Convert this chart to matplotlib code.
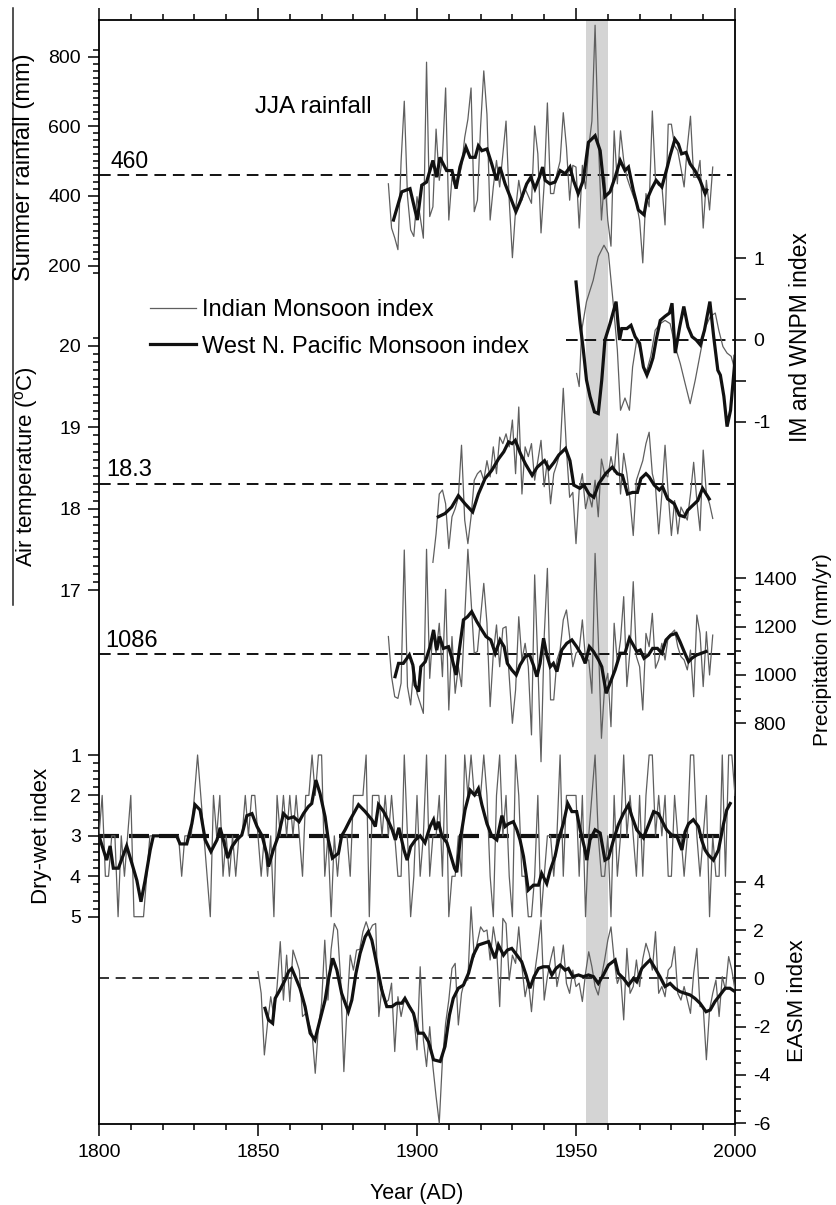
import numpy as np
import matplotlib
matplotlib.use("Agg")
import matplotlib.pyplot as plt
from matplotlib.lines import Line2D

plt.rcParams['font.family'] = ['Liberation Sans', 'DejaVu Sans']
plt.rcParams['mathtext.fontset'] = 'custom'
plt.rcParams['mathtext.rm'] = 'Liberation Sans'
plt.rcParams['axes.unicode_minus'] = False

# ---------------- data ----------------
rain_years = list(range(1891, 1994))
rain_thin = [435, 308, 280, 246, 500, 672, 400, 303, 284, 398,
             340, 279, 784, 341, 369, 592, 445, 511, 710, 331,
             454, 426, 450, 483, 568, 620, 710, 355, 388, 600,
             759, 634, 331, 426, 502, 426, 520, 615, 388, 223,
             360, 445, 388, 421, 400, 379, 601, 521, 294, 435,
             667, 407, 407, 464, 500, 639, 540, 388, 488, 483,
             308, 488, 421, 540, 615, 890, 568, 331, 454, 330,
             256, 587, 435, 587, 502, 454, 426, 400, 379, 330,
             208, 407, 369, 644, 445, 430, 431, 317, 606, 606,
             544, 530, 480, 426, 540, 629, 454, 454, 502, 308,
             445, 360, 483]
rain_smooth_years = [1892.6, 1895.2, 1897.8, 1900.1, 1901.5, 1903.0, 1905.0, 1906.2, 1907.2, 1909.3,
                     1911.0, 1912.3, 1913.5, 1915.4, 1916.7, 1918.3, 1919.3, 1920.4, 1922.0, 1923.5,
                     1925.0, 1926.1, 1927.7, 1929.5, 1931.1, 1932.4, 1934.5, 1935.8, 1937.1, 1938.5,
                     1939.5, 1940.3, 1941.8, 1943.4, 1945.0, 1946.6, 1948.1, 1949.2, 1950.7, 1952.3,
                     1953.9, 1956.0, 1957.6, 1959.1, 1960.7, 1962.3, 1963.9, 1965.4, 1966.5, 1968.0,
                     1969.6, 1971.4, 1972.2, 1973.8, 1975.2, 1977.0, 1978.7, 1979.6, 1981.1, 1982.2,
                     1983.2, 1984.6, 1985.9, 1987.4, 1989.0, 1990.6, 1991.1]
rain_smooth = [331, 412, 421, 331, 431, 440, 502, 454, 511, 473,
               473, 421, 483, 540, 511, 511, 544, 530, 535, 492,
               445, 483, 435, 393, 355, 383, 435, 454, 421, 454,
               483, 445, 435, 440, 473, 464, 483, 445, 407, 445,
               554, 573, 530, 398, 412, 454, 502, 473, 483, 417,
               360, 346, 388, 421, 445, 426, 483, 516, 563, 549,
               521, 525, 492, 473, 445, 407, 417]

im_years = [1950.2, 1951.0, 1951.8, 1953.3, 1955.4, 1957.0, 1958.8, 1960.2, 1961.7, 1963.0,
            1964.0, 1965.4, 1966.8, 1967.8, 1969.1, 1970.2, 1971.2, 1972.3, 1973.5, 1974.9,
            1976.5, 1978.0, 1979.6, 1981.2, 1982.8, 1984.3, 1985.9, 1987.5, 1989.1, 1990.7,
            1992.3, 1993.8, 1994.9, 1996.2, 1997.5, 1998.8, 2000.0]
im_index = [-0.41, -0.57, 0.12, 0.47, 0.73, 1.02, 1.16, 1.06, 0.45, -0.12,
            -0.86, -0.71, -0.86, -0.33, 0.0, -0.12, -0.35, -0.37, -0.20, 0.12,
            0.20, 0.24, 0.20, -0.08, -0.29, -0.53, -0.78, -0.49, -0.16, 0.16,
            0.29, 0.33, 0.12, -0.08, -0.16, -0.20, -0.37]
wnpm_years = [1950.0, 1951.3, 1952.3, 1953.3, 1954.4, 1955.8, 1957.0, 1958.1, 1959.1, 1960.7,
              1962.6, 1963.7, 1964.4, 1966.0, 1967.3, 1968.6, 1970.0, 1971.2, 1972.3, 1973.3,
              1974.2, 1975.2, 1976.5, 1978.0, 1979.4, 1980.2, 1981.2, 1982.6, 1983.9, 1985.2,
              1986.5, 1987.8, 1989.1, 1990.4, 1992.1, 1993.3, 1994.6, 1995.4, 1996.5, 1997.5,
              1998.6, 1999.8, 2000.0]
wnpm_index = [0.71, 0.20, -0.12, -0.49, -0.69, -0.88, -0.90, -0.49, 0.0, 0.20,
              0.47, 0.0, 0.14, 0.14, 0.18, 0.04, -0.04, -0.33, -0.43, -0.33,
              -0.22, 0.0, 0.24, 0.29, 0.33, 0.45, -0.16, 0.16, 0.41, 0.16,
              0.04, 0.0, -0.06, 0.12, 0.47, 0.04, -0.37, -0.43, -0.69, -1.06,
              -0.86, -0.33, -0.20]

temp_years = list(range(1905, 1994))
temp_thin = [17.34, 17.69, 18.18, 18.23, 18.06, 17.51, 17.90, 18.00, 18.14, 18.78,
             17.86, 17.57, 17.90, 18.35, 18.43, 18.47, 18.35, 18.59, 18.39, 18.76,
             18.43, 18.88, 18.80, 18.92, 18.76, 19.09, 18.43, 19.25, 18.18, 18.76,
             18.64, 18.80, 18.35, 18.59, 18.84, 18.27, 18.59, 18.06, 18.43, 18.55,
             18.70, 19.48, 18.72, 18.14, 18.20, 17.57, 18.23, 18.43, 18.00, 18.18,
             18.02, 18.35, 17.90, 18.61, 18.43, 18.39, 18.64, 18.45, 18.92, 18.18,
             18.68, 18.43, 18.10, 17.67, 18.35, 18.47, 18.59, 18.80, 18.94, 18.43,
             18.27, 17.69, 18.18, 18.78, 18.18, 17.67, 18.10, 17.69, 18.02, 17.94,
             17.86, 18.18, 18.57, 18.10, 17.73, 18.72, 18.18, 18.06, 17.88]
temp_smooth_years = [1906.7, 1908.8, 1910.9, 1913.0, 1915.1, 1917.5, 1919.3, 1921.4, 1923.5, 1925.6,
                     1927.3, 1928.8, 1929.9, 1930.9, 1932.5, 1934.1, 1936.2, 1937.8, 1940.1, 1941.5,
                     1943.1, 1944.6, 1946.7, 1948.1, 1949.3, 1951.2, 1952.5, 1954.1, 1955.6, 1957.2,
                     1959.3, 1961.4, 1963.0, 1964.6, 1966.2, 1967.8, 1969.3, 1970.4, 1972.0, 1973.0,
                     1974.6, 1976.2, 1977.2, 1978.8, 1980.9, 1982.5, 1984.1, 1985.1, 1986.7, 1988.3,
                     1989.8, 1991.9]
temp_smooth = [17.90, 17.94, 18.02, 18.16, 18.06, 17.96, 18.18, 18.37, 18.47, 18.61,
               18.70, 18.82, 18.80, 18.84, 18.68, 18.55, 18.41, 18.51, 18.59, 18.49,
               18.57, 18.66, 18.74, 18.59, 18.29, 18.25, 18.29, 18.18, 18.14, 18.31,
               18.43, 18.51, 18.43, 18.41, 18.18, 18.20, 18.20, 18.37, 18.43, 18.39,
               18.29, 18.23, 18.27, 18.12, 18.06, 17.92, 17.90, 17.98, 18.04, 18.10,
               18.25, 18.12]

prec_years = list(range(1891, 1994))
prec_thin = [1159, 993, 910, 903, 966, 1517, 952, 876, 1034, 924,
             883, 841, 1520, 986, 1186, 1090, 1214, 993, 1354, 855,
             1159, 924, 1034, 952, 1234, 1520, 1310, 1090, 1097, 1240,
             1379, 1214, 869, 1090, 1207, 1034, 1193, 1200, 993, 800,
             938, 1241, 1062, 1131, 1034, 752, 1414, 1048, 641, 1159,
             1441, 897, 897, 1062, 1103, 1228, 1269, 1159, 1034, 1090,
             1103, 1228, 1062, 1062, 924, 1503, 1152, 738, 952, 1007,
             786, 1214, 1048, 1145, 1324, 952, 1103, 1386, 1076, 1034,
             855, 1172, 1117, 1255, 1028, 1062, 1131, 1062, 1159, 1172,
             1186, 1117, 1076, 1062, 1021, 1103, 910, 1248, 1172, 952,
             1179, 1000, 1165]
prec_smooth_years = [1893.1, 1894.2, 1895.7, 1897.6, 1898.7, 1899.4, 1900.5, 1901.2, 1902.6, 1904.1,
                     1905.2, 1906.2, 1907.1, 1908.3, 1909.9, 1911.0, 1912.3, 1913.3, 1914.6, 1915.9,
                     1917.2, 1918.8, 1920.4, 1921.7, 1923.2, 1924.6, 1926.1, 1927.4, 1928.4, 1929.8,
                     1931.2, 1932.4, 1934.0, 1935.4, 1936.6, 1937.7, 1938.7, 1939.8, 1940.8, 1941.9,
                     1942.9, 1944.0, 1945.5, 1947.1, 1948.7, 1950.2, 1951.8, 1952.9, 1954.2, 1955.5,
                     1957.1, 1958.1, 1959.5, 1960.7, 1962.3, 1963.9, 1965.4, 1966.8, 1968.0, 1969.1,
                     1970.2, 1971.4, 1972.8, 1974.1, 1975.6, 1977.0, 1978.3, 1979.8, 1981.5, 1982.7,
                     1984.0, 1985.4, 1986.4, 1988.0, 1989.5, 1990.9]
prec_smooth = [993, 1048, 1048, 1083, 1041, 958, 931, 1034, 1055, 1117,
               1186, 1103, 1159, 1110, 1117, 1069, 1000, 1103, 1228, 1241,
               1262, 1221, 1186, 1159, 1145, 1090, 1145, 1117, 1048, 1021,
               1000, 1041, 1076, 1083, 1041, 993, 1048, 1152, 1083, 1034,
               1048, 1014, 1103, 1131, 1145, 1117, 1083, 1048, 1117, 1097,
               1062, 1034, 924, 966, 1021, 1090, 1090, 1152, 1124, 1097,
               1103, 1069, 1083, 1110, 1110, 1090, 1145, 1165, 1172, 1138,
               1097, 1055, 1069, 1083, 1090, 1097]

dw_years = list(range(1800, 2001))
dw_thin = [3, 2, 4, 4, 3, 3, 5, 3, 4, 3,
           2, 5, 5, 5, 5, 4, 3, 3, 3, 3,
           3, 3, 3, 3, 3, 3, 4, 3, 3, 3,
           2, 1, 2, 3, 4, 5, 2, 3, 2, 4,
           3, 4, 3, 4, 3, 3, 2, 3, 2, 2,
           3, 4, 3, 4, 3, 5, 2, 3, 2, 3,
           2, 3, 2, 3, 4, 2, 2, 1, 2, 1,
           1, 4, 3, 5, 3, 4, 3, 3, 3, 4,
           2, 2, 2, 2, 1, 5, 2, 2, 2, 3,
           2, 3, 2, 3, 4, 4, 1, 3, 5, 4,
           2, 4, 3, 1, 4, 3, 3, 2, 4, 1,
           5, 4, 4, 3, 4, 1, 2, 1, 2, 2,
           2, 1, 2, 4, 5, 2, 1, 3, 2, 4,
           5, 1, 2, 4, 4, 5, 5, 4, 2, 5,
           4, 3, 3, 4, 3, 1, 4, 2, 2, 2,
           2, 4, 2, 5, 3, 2, 1, 3, 4, 4,
           3, 5, 2, 4, 3, 1, 3, 2, 3, 4,
           2, 4, 2, 1, 1, 3, 2, 3, 2, 4,
           4, 2, 3, 3, 4, 3, 1, 1, 3, 4,
           3, 2, 5, 3, 4, 4, 1, 4, 1, 1,
           2]
dw_smooth_years = [1800.0, 1801.4, 1802.4, 1803.5, 1804.5, 1806.1, 1808.7, 1810.3, 1811.9, 1813.2,
                   1814.5, 1816.1, 1817.1, 1824.4, 1825.5, 1827.6, 1829.2, 1830.2, 1831.8, 1833.4,
                   1835.2, 1837.1, 1838.1, 1839.1, 1840.5, 1841.8, 1843.3, 1844.9, 1846.5, 1848.1,
                   1849.7, 1851.3, 1852.8, 1853.3, 1854.8, 1856.4, 1858.0, 1859.5, 1861.2, 1862.9,
                   1864.3, 1865.8, 1866.9, 1868.2, 1869.5, 1871.1, 1872.1, 1873.4, 1875.3, 1876.3,
                   1877.4, 1879.0, 1881.6, 1883.7, 1885.8, 1886.9, 1887.9, 1889.5, 1891.1, 1892.2,
                   1893.2, 1894.3, 1895.9, 1896.9, 1898.0, 1899.5, 1901.0, 1902.5, 1904.1, 1905.2,
                   1905.9, 1906.7, 1907.8, 1909.4, 1910.4, 1911.8, 1912.5, 1913.6, 1915.1, 1916.7,
                   1918.1, 1919.3, 1920.4, 1922.0, 1923.5, 1925.1, 1926.7, 1927.7, 1928.8, 1930.3,
                   1931.4, 1932.4, 1933.5, 1935.0, 1936.6, 1938.2, 1939.2, 1940.8, 1941.9, 1943.4,
                   1944.5, 1946.0, 1947.4, 1948.7, 1950.2, 1951.3, 1952.7, 1953.4, 1954.4, 1956.0,
                   1957.6, 1959.1, 1960.2, 1961.8, 1963.3, 1964.9, 1966.5, 1967.5, 1969.1, 1971.2,
                   1972.8, 1974.4, 1975.9, 1977.5, 1978.5, 1980.1, 1981.7, 1983.3, 1984.3, 1985.4,
                   1986.9, 1988.5, 1989.5, 1990.6, 1991.6, 1993.2, 1994.8, 1996.4, 1997.4, 1998.5]
dw_smooth = [3.0, 3.35, 3.6, 3.25, 3.8, 3.8, 3.25, 3.67, 4.1, 4.63,
             4.1, 3.35, 3.0, 3.0, 3.2, 3.2, 2.7, 2.23, 2.36, 3.1,
             3.39, 3.1, 2.8, 3.1, 3.55, 3.27, 3.1, 2.98, 2.5, 2.45,
             2.77, 3.0, 3.47, 3.76, 3.35, 3.0, 2.45, 2.57, 2.53, 2.65,
             2.45, 2.28, 2.2, 1.62, 1.95, 2.53, 3.1, 3.55, 3.43, 3.0,
             2.85, 2.6, 2.23, 2.4, 2.6, 2.77, 2.23, 2.4, 2.65, 2.85,
             3.1, 2.8, 3.35, 3.6, 3.27, 3.1, 3.0, 3.17, 2.77, 2.6,
             2.85, 2.65, 3.0, 3.17, 3.43, 3.8, 3.9, 3.1, 2.36, 1.87,
             1.99, 1.83, 2.23, 2.7, 3.0, 3.1, 2.5, 2.77, 2.7, 2.65,
             2.85, 3.1, 3.51, 4.34, 4.22, 4.22, 3.93, 4.18, 3.85, 3.51,
             3.1, 2.7, 2.2, 2.4, 2.4, 2.85, 3.3, 3.6, 3.1, 2.85,
             2.93, 3.6, 3.55, 3.1, 2.73, 2.45, 2.23, 2.5, 2.85, 3.05,
             2.73, 2.4, 2.45, 2.7, 2.85, 2.98, 3.0, 3.35, 2.9, 2.7,
             2.6, 2.77, 3.1, 3.35, 3.47, 3.6, 3.35, 2.7, 2.36, 2.2]

easm_years = list(range(1850, 2001))
easm_thin = [0.28, -0.62, -3.17, -1.86, -0.76, -1.58, -0.34, 1.52, -0.90, 0.96,
             -0.96, 1.17, 0.76, 0.34, -1.58, -1.45, -1.86, -2.27, -3.93, -2.00,
             -1.03, 1.58, -0.90, 1.20, 2.27, 2.00, -0.07, -3.86, -1.17, 0.96,
             0.34, 1.17, 1.20, 1.93, 2.34, 1.93, 2.20, 2.27, -1.58, -0.34,
             -1.03, -0.90, -0.20, -3.03, -0.76, -1.58, -0.90, -1.03, -1.20, -1.58,
             -2.96, 0.48, -2.55, -3.65, -2.00, -3.65, -4.89, -5.99, -3.37, -1.86,
             -0.90, 0.41, 0.62, -1.93, -0.62, -0.07, -0.07, 2.96, 0.89, 1.52,
             2.13, 1.93, 2.00, 0.76, 2.13, 1.31, -1.17, 2.48, 2.27, -0.07,
             0.96, 0.62, 2.13, 0.48, -0.76, -0.07, -1.38, 0.21, 1.20, 2.41,
             -0.90, 0.07, 0.76, 1.31, -0.34, 0.34, 1.38, -0.21, -0.62, 0.34,
             -0.34, -0.20, -0.96, 0.21, 1.10, 0.48, -0.34, -0.69, 0.07, 0.76,
             1.58, 2.13, 0.76, -0.21, 0.14, -1.72, 1.24, -0.62, -0.34, 0.76,
             -0.34, 0.80, 1.45, 1.03, 0.34, 1.93, -0.62, -0.34, -0.76, 0.34,
             0.50, 1.31, -0.62, -0.90, -0.34, -0.90, -1.45, 0.20, 1.24, -1.17,
             -1.17, -3.37, -1.31, -0.62, -0.07, -1.58, 0.07, -0.48, 0.90, 0.34,
             -0.48]
easm_smooth_years = [1852.2, 1853.3, 1854.6, 1855.4, 1856.9, 1858.5, 1859.6, 1860.6, 1861.7, 1863.2,
                     1864.8, 1866.4, 1867.9, 1869.5, 1871.1, 1872.1, 1873.5, 1874.8, 1876.3, 1878.4,
                     1879.5, 1880.8, 1882.1, 1883.7, 1884.7, 1885.8, 1887.3, 1888.9, 1890.5, 1892.1,
                     1893.6, 1895.2, 1896.2, 1897.6, 1898.9, 1900.4, 1902.0, 1903.6, 1905.2, 1907.3,
                     1908.8, 1910.2, 1911.4, 1913.0, 1914.6, 1916.2, 1917.7, 1919.3, 1920.9, 1922.5,
                     1923.5, 1924.5, 1925.6, 1927.2, 1928.4, 1929.8, 1931.4, 1932.9, 1934.3, 1935.5,
                     1936.8, 1938.2, 1939.7, 1941.3, 1942.4, 1943.7, 1945.0, 1946.6, 1947.6, 1949.0,
                     1950.8, 1952.3, 1953.9, 1955.5, 1957.0, 1958.6, 1960.2, 1962.3, 1963.3, 1964.9,
                     1966.5, 1968.1, 1969.1, 1970.7, 1972.2, 1973.3, 1974.9, 1976.4, 1978.0, 1979.6,
                     1981.1, 1982.7, 1984.3, 1985.9, 1987.4, 1989.0, 1990.9, 1992.2, 1993.7, 1995.3,
                     1996.9, 1998.4, 2000.0]
easm_smooth = [-1.24, -1.72, -1.86, -0.83, -0.48, -0.07, 0.28, 0.41, 0.07, -0.41,
               -1.17, -2.27, -2.55, -1.72, -0.90, -0.07, 0.83, 0.34, -0.62, -1.38,
               -0.90, 0.21, 1.03, 1.72, 1.93, 1.58, 0.62, -0.48, -1.17, -1.17,
               -1.03, -1.03, -0.83, -1.17, -1.45, -2.27, -2.27, -2.62, -3.37, -3.44,
               -2.82, -1.52, -0.83, -0.41, -0.28, 0.21, 0.96, 1.38, 1.45, 1.52,
               1.17, 0.83, 1.38, 0.96, 1.17, 1.24, 0.96, 0.69, 0.14, -0.41,
               0.07, 0.41, 0.48, 0.48, 0.14, 0.41, 0.55, 0.34, 0.41, 0.07,
               0.14, 0.07, 0.14, 0.07, -0.21, 0.14, 0.55, 0.76, 0.21, 0.0,
               -0.28, 0.0, -0.14, 0.41, 0.62, 0.76, 0.41, 0.07, -0.34, -0.21,
               -0.41, -0.55, -0.62, -0.69, -0.83, -1.03, -1.38, -1.31, -0.96, -0.69,
               -0.41, -0.41, -0.55]

ref_rain, ref_im, ref_temp, ref_prec, ref_dw, ref_easm = 460, 0, 18.3, 1086, 3, 0
band_years = (1953, 1960)

# ---------------- layout (pixels) ----------------
W, H = 837, 1205
X0, X1, Y0, Y1 = 99, 735, 20, 1124
THIN = dict(color='#5f5f5f', lw=0.9)
THICK = dict(color='#111111', lw=2.3, solid_joinstyle='miter')
TICKFS = 14

fig = plt.figure(figsize=(W / 100, H / 100), dpi=100)
rect = [X0 / W, 1 - Y1 / H, (X1 - X0) / W, (Y1 - Y0) / H]

base = fig.add_axes(rect)
base.set_xlim(1800, 2000)
base.set_ylim(0, 1)
base.set_yticks([])
base.set_xticks([1800, 1850, 1900, 1950, 2000])
base.set_xticks(np.arange(1800, 2001, 10), minor=True)
base.tick_params(axis='x', which='both', direction='out', top=True, bottom=True,
                 labelsize=14, width=1.1, pad=6)
base.tick_params(axis='x', which='major', length=8.5)
base.tick_params(axis='x', which='minor', length=4.5)
for s in base.spines.values():
    s.set_linewidth(1.3)
base.axvspan(*band_years, color='#d4d4d4', lw=0, zorder=0)
base.set_xlabel('Year (AD)', fontsize=15.5, labelpad=16)


def panel(v1, p1, v2, p2, side):
    a = fig.add_axes(rect)
    a.patch.set_visible(False)
    for s in a.spines.values():
        s.set_visible(False)
    a.set_xlim(1800, 2000)
    a.xaxis.set_visible(False)
    slope = (v2 - v1) / (p2 - p1)
    a.set_ylim(v1 + slope * (Y1 - p1), v1 + slope * (Y0 - p1))
    a.yaxis.set_ticks_position(side)
    a.yaxis.set_label_position(side)
    a.tick_params(axis='y', which='both', direction='out', labelsize=TICKFS, width=1.1)
    a.tick_params(axis='y', which='major', length=8, pad=5)
    a.tick_params(axis='y', which='minor', length=4)
    return a


def dashed(a, y, x0=1800, x1=2000, lw=1.4, pat=(6, 3.5)):
    a.plot([x0, x1], [y, y], color='#111111', lw=lw, linestyle=(0, pat), zorder=1)


# rainfall
a1 = panel(400, 196, 200, 265.7, 'left')
a1.set_yticks([200, 400, 600, 800])
a1.set_yticks(np.arange(180, 821, 20), minor=True)
dashed(a1, ref_rain, 1800, 1999)
a1.plot(rain_years, rain_thin, **THIN)
a1.plot(rain_smooth_years, rain_smooth, **THICK)

# IM & WNPM
a2 = panel(1, 258.3, -1, 421.7, 'right')
a2.set_yticks([-1, -0.5, 0, 0.5, 1])
a2.set_yticklabels(['-1', '', '0', '', '1'])
dashed(a2, ref_im, 1947, 2000)
l_im, = a2.plot(im_years, im_index, **THIN)
l_wn, = a2.plot(wnpm_years, wnpm_index, **THICK)
a2.legend([l_im, l_wn], ['Indian Monsoon index', 'West N. Pacific Monsoon index'],
          loc='upper left', bbox_to_anchor=(150 / W, 1 - 299 / H), bbox_transform=fig.transFigure,
          frameon=False, fontsize=17, handlelength=1.95, handletextpad=0.25,
          labelspacing=0.62, borderpad=0, borderaxespad=0)

# temperature
a3 = panel(20, 346, 17, 590, 'left')
a3.set_yticks([17, 18, 19, 20])
a3.set_yticks(np.arange(17.0, 20.15, 0.1), minor=True)
dashed(a3, ref_temp)
a3.plot(temp_years, temp_thin, **THIN)
a3.plot(temp_smooth_years, temp_smooth, **THICK)

# precipitation
a4 = panel(1400, 578.3, 800, 723.3, 'right')
a4.set_yticks([800, 1000, 1200, 1400])
a4.set_yticks(np.arange(800, 1401, 50), minor=True)
dashed(a4, ref_prec)
a4.plot(prec_years, prec_thin, **THIN)
a4.plot(prec_smooth_years, prec_smooth, **THICK)

# dry-wet
a5 = panel(1, 755, 5, 916.7, 'left')
a5.set_yticks([1, 2, 3, 4, 5])
a5.set_yticks(np.arange(1, 5.01, 0.2), minor=True)
a5.plot(dw_years, dw_thin, **THIN)
a5.plot(dw_smooth_years, dw_smooth, **THICK)
dashed(a5, ref_dw, 1800, 1998, lw=3.0, pat=(4.8, 2.4))

# EASM
a6 = panel(4, 881.7, -6, 1123.3, 'right')
a6.set_yticks([-6, -4, -2, 0, 2, 4])
a6.set_yticks(np.arange(-6, 4.01, 0.5), minor=True)
dashed(a6, ref_easm, lw=1.2, pat=(6, 4))
a6.plot(easm_years, easm_thin, **THIN)
a6.plot(easm_smooth_years, easm_smooth, **THICK)

# ---------------- texts ----------------
def ftext(x, y, s, **kw):
    fig.text(x / W, 1 - y / H, s, **kw)

ftext(255, 107, 'JJA rainfall', fontsize=17.5, ha='left', va='center')
ftext(111, 161, '460', fontsize=16.5, ha='left', va='center')
ftext(106, 470, '18.3', fontsize=17, ha='left', va='center')
ftext(105, 641, '1086', fontsize=17, ha='left', va='center')

ftext(24, 167, 'Summer rainfall (mm)', fontsize=17, rotation=90, ha='center', va='center')
ftext(27, 467, r'Air temperature ($^{\rm o}$C)', fontsize=16, rotation=90, ha='center', va='center')
ftext(42, 836, 'Dry-wet index', fontsize=16, rotation=90, ha='center', va='center')
ftext(801, 337, 'IM and WNPM index', fontsize=16.5, rotation=90, ha='center', va='center')
ftext(823, 650, 'Precipitation (mm/yr)', fontsize=15, rotation=90, ha='center', va='center')
ftext(798, 1001, 'EASM index', fontsize=16, rotation=90, ha='center', va='center')

fig.add_artist(Line2D([13 / W, 13 / W], [1 - 8 / H, 1 - 605 / H], color='#222222', lw=1.1))

fig.savefig('out.png', dpi=100)
